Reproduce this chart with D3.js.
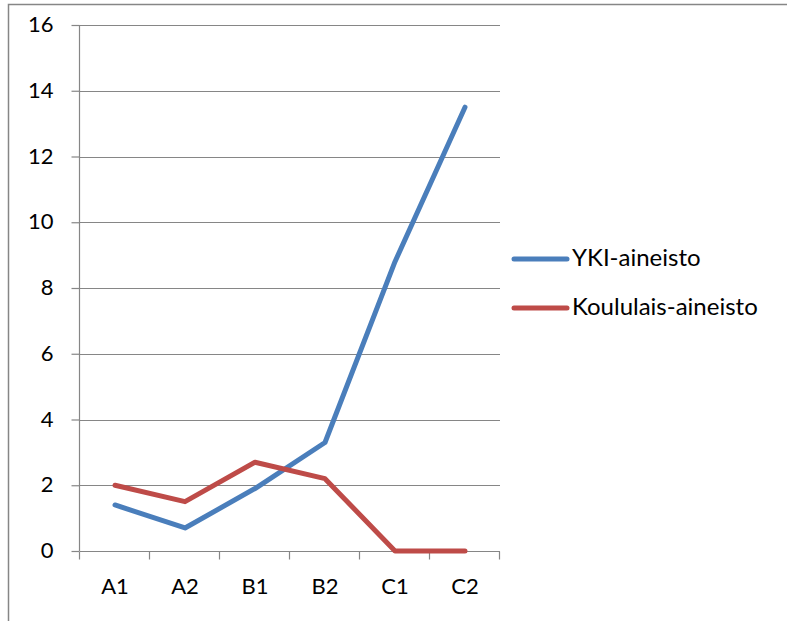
<!DOCTYPE html>
<html>
<head>
<meta charset="utf-8">
<script src="https://cdn.jsdelivr.net/npm/d3@7"></script>
<style>
html,body{margin:0;padding:0;background:#fff;}
svg{display:block;}
text{font-family:Lato,"Open Sans",sans-serif;fill:#000;}
</style>
</head>
<body>
<svg id="c" width="787" height="621"></svg>
<script>
const categories = ["A1","A2","B1","B2","C1","C2"];
const ykiValues = [1.4, 0.7, 1.9, 3.3, 8.8, 13.5];
const koulValues = [2.0, 1.5, 2.7, 2.2, 0, 0];
const yTicks = [0,2,4,6,8,10,12,14,16];
const seriesNames = ["YKI-aineisto","Koululais-aineisto"];
const seriesColors = ["#4A7EBB","#BE4B48"];

(function(){
const svg = d3.select("#c");
const gray = "#868686";
const fs = 22;

// outer frame
svg.append("rect").attr("x",8.5).attr("y",4.5).attr("width",900).attr("height",900)
  .attr("fill","none").attr("stroke",gray).attr("stroke-width",1.5);

const pl=80, pr=500, pt=25, pb=551;
const x = d3.scaleBand().domain(categories).range([pl,pr]);
const y = d3.scaleLinear().domain([0,16]).range([pb,pt]);

// gridlines
svg.append("g").selectAll("line").data(yTicks.filter(d=>d>0)).join("line")
  .attr("x1",pl).attr("x2",pr)
  .attr("y1",d=>Math.round(y(d))+0.5).attr("y2",d=>Math.round(y(d))+0.5)
  .attr("stroke",gray).attr("stroke-width",1.2);

// y axis
const yAxis = d3.axisLeft(y).tickValues(yTicks).tickSize(8).tickPadding(18).tickFormat(d3.format("d"));
const gy = svg.append("g").attr("transform",`translate(${pl-0.5},0)`).call(yAxis);
gy.select(".domain").attr("stroke",gray).attr("stroke-width",1.2).attr("d",`M0,${pb}V${pt}`);
gy.selectAll(".tick line").attr("stroke",gray).attr("stroke-width",1.2);
gy.selectAll(".tick text").attr("font-size",fs).attr("font-family","Lato,sans-serif").attr("fill","#000").attr("dy","0.3em");

// x axis
const xAxis = d3.axisBottom(x).tickSize(0).tickPadding(27);
const gx = svg.append("g").attr("transform",`translate(0,${pb+0.5})`).call(xAxis);
gx.select(".domain").attr("stroke",gray).attr("stroke-width",1.2).attr("d",`M${pl},0H${pr}`);
gx.selectAll(".tick text").attr("font-size",fs).attr("font-family","Lato,sans-serif").attr("fill","#000");
const bounds = categories.map(c=>x(c)).concat([pr]);
gx.append("g").selectAll("line").data(bounds).join("line")
  .attr("x1",d=>d-0.5).attr("x2",d=>d-0.5).attr("y1",0).attr("y2",8)
  .attr("stroke",gray).attr("stroke-width",1.2);

// lines
const line = d3.line().x((d,i)=>x(categories[i])+x.bandwidth()/2).y(d=>y(d));
[ykiValues, koulValues].forEach((vals,i)=>{
  svg.append("path").datum(vals).attr("d",line).attr("fill","none")
    .attr("stroke",seriesColors[i]).attr("stroke-width",5)
    .attr("stroke-linejoin","round").attr("stroke-linecap","round");
});

// legend
const legY = [259, 308];
seriesNames.forEach((n,i)=>{
  svg.append("line").attr("x1",514).attr("x2",567).attr("y1",legY[i]).attr("y2",legY[i])
    .attr("stroke",seriesColors[i]).attr("stroke-width",5).attr("stroke-linecap","round");
  svg.append("text").attr("x",572).attr("y",legY[i]+7)
    .attr("font-size",24).text(n);
});
})();
</script>
</body>
</html>
